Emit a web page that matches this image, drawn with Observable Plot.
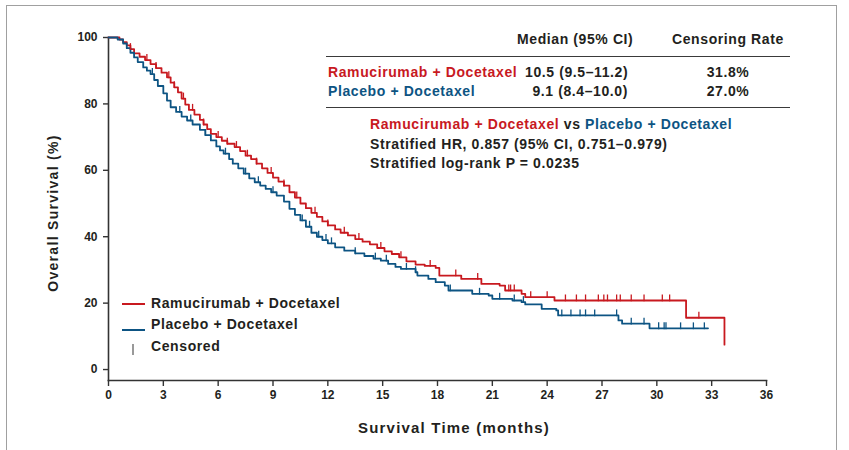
<!DOCTYPE html>
<html>
<head>
<meta charset="utf-8">
<script src="https://cdn.jsdelivr.net/npm/d3@7"></script>
<script src="https://cdn.jsdelivr.net/npm/@observablehq/plot@0.6"></script>
<style>
  html, body { margin: 0; padding: 0; background: #fff; }
  #wrap { position: relative; width: 849px; height: 450px; overflow: hidden; font-family: "Liberation Sans", Arial, sans-serif; color: #231f20; }
  #frame { position: absolute; left: 6px; top: 5px; width: 831px; height: 500px; border: 1px solid #a0a0a0; box-sizing: border-box; }
  #chart { position: absolute; left: 0; top: 0; }
  .t { position: absolute; font-weight: bold; font-size: 14px; letter-spacing: 0.6px; white-space: nowrap; transform: translateY(-50%); line-height: 1; }
  .rule { position: absolute; height: 0; border-top: 1.6px solid #3a3a3a; }
  .red { color: #c8191f; }
  .blue { color: #0d5483; }
</style>
</head>
<body>
<div id="wrap">
  <div id="frame"></div>
  <div id="chart"></div>
  <div id="overlay"></div>
</div>
<script>
// ---- Data ----
const arms = ["Ramucirumab + Docetaxel", "Placebo + Docetaxel"];
const armColors = ["#c8191f", "#0d5483"];
const medians = ["10.5 (9.5–11.2)", "9.1 (8.4–10.0)"];
const censoringRates = ["31.8%", "27.0%"];
const hrText = "Stratified HR, 0.857 (95% CI, 0.751–0.979)";
const pText = "Stratified log-rank P = 0.0235";
const xTicks = [0, 3, 6, 9, 12, 15, 18, 21, 24, 27, 30, 33, 36];
const yTicks = [0, 20, 40, 60, 80, 100];

// Kaplan–Meier step points [month, survival %] (step-after)
const ramKM = [[0,100],[0.6,99.4],[0.8,98.6],[1.0,97.6],[1.2,96.5],[1.4,95.2],[1.7,94.2],[2.0,93.2],[2.3,92.0],[2.6,90.8],[2.9,89.4],[3.2,88.0],[3.4,86.4],[3.6,85.0],[3.8,83.5],[4.0,81.6],[4.2,79.8],[4.4,78.2],[4.7,76.8],[5.0,75.2],[5.2,73.8],[5.4,72.4],[5.6,71.0],[5.9,70.0],[6.2,68.9],[6.5,68.0],[6.9,67.0],[7.2,65.8],[7.5,64.4],[7.8,63.4],[8.1,62.0],[8.4,60.6],[8.7,59.2],[9.0,57.8],[9.3,56.6],[9.6,55.4],[9.9,53.4],[10.2,51.8],[10.5,50.0],[10.8,48.6],[11.1,47.2],[11.4,46.0],[11.7,44.6],[12.0,43.4],[12.4,42.2],[12.7,41.2],[13.1,40.4],[13.5,39.3],[13.9,38.5],[14.3,37.7],[14.7,36.6],[15.1,35.6],[15.5,34.8],[15.9,33.8],[16.3,32.6],[16.8,31.6],[17.3,31.2],[17.9,30.6],[18.1,28.3],[19.3,27.3],[20.4,25.8],[21.4,25.3],[21.7,23.8],[22.6,22.8],[22.8,21.8],[24.4,20.8],[31.6,15.6],[33.7,7.5]];
const plaKM = [[0,100],[0.5,99.4],[0.8,98.2],[1.0,96.8],[1.2,95.4],[1.4,94.0],[1.6,92.6],[1.9,91.0],[2.1,90.0],[2.3,89.0],[2.5,87.2],[2.7,85.4],[3.0,83.2],[3.2,81.0],[3.4,79.0],[3.7,77.6],[4.0,76.2],[4.3,75.0],[4.6,73.8],[5.0,72.2],[5.3,70.6],[5.6,69.0],[5.9,67.2],[6.1,66.0],[6.3,65.0],[6.6,63.4],[6.8,62.0],[7.1,60.6],[7.4,59.0],[7.7,57.6],[8.0,56.4],[8.3,55.4],[8.6,54.4],[8.9,53.4],[9.2,52.4],[9.6,50.6],[9.9,48.4],[10.2,46.6],[10.5,44.9],[10.8,43.0],[11.1,41.2],[11.4,40.0],[11.7,39.0],[12.0,38.0],[12.4,36.8],[12.9,35.8],[13.5,35.0],[14.0,34.2],[14.5,33.4],[14.9,32.8],[15.3,31.8],[15.7,30.9],[16.0,30.3],[16.8,29.3],[16.9,28.3],[17.5,27.3],[17.9,26.3],[18.4,25.3],[18.6,23.8],[19.9,22.8],[20.8,22.3],[21.0,21.3],[22.1,20.8],[22.6,20.3],[22.8,19.6],[23.7,18.3],[24.5,17.8],[24.6,16.3],[27.9,14.8],[28.1,13.8],[29.6,12.4],[32.8,12.4]];

// Censoring times (months)
const ramCensor = [1.2,2.1,2.6,3.3,3.6,4.1,4.6,5.2,6.0,6.5,7.0,7.6,8.1,8.9,9.6,10.3,11.3,12.0,12.9,13.7,14.9,16.0,17.6,19.0,20.2,21.9,22.0,22.2,23.1,24.0,25.0,25.6,26.1,26.8,27.1,27.3,27.8,28.0,28.6,29.3,30.3,30.7,32.3];
const plaCensor = [2.4,3.9,4.5,5.3,6.4,7.5,8.2,9.0,10.6,11.0,11.5,11.9,12.2,13.5,14.6,15.2,16.3,16.8,18.7,20.3,21.4,22.2,22.7,24.8,25.3,25.8,26.1,26.6,27.8,28.6,29.3,30.1,30.4,30.5,31.3,32.0,32.6];

// ---- Build tables ----
const curves = [
  ...ramKM.map(([t, s]) => ({arm: arms[0], t, s})),
  ...plaKM.map(([t, s]) => ({arm: arms[1], t, s}))
];
function survAt(km, t) {
  let s = km[0][1];
  for (const [tt, ss] of km) { if (tt <= t) s = ss; else break; }
  return s;
}
const censors = [
  ...ramCensor.map(t => ({arm: arms[0], t, s: survAt(ramKM, t)})),
  ...plaCensor.map(t => ({arm: arms[1], t, s: survAt(plaKM, t)}))
];
const vtick = { draw(ctx, size) { const h = Math.sqrt(size / Math.PI) * 2; ctx.moveTo(0, -h); ctx.lineTo(0, 0.8); } };

const ink = "#333";
const chart = Plot.plot({
  width: 849,
  height: 450,
  marginLeft: 108,
  marginRight: 83,
  marginTop: 37,
  marginBottom: 70,
  style: { fontFamily: '"Liberation Sans", Arial, sans-serif', fontSize: "12px", fontWeight: "bold", color: "#231f20", background: "transparent" },
  x: { domain: [0, 36] },
  y: { domain: [-3.3, 100] },
  color: { domain: arms, range: armColors },
  marks: [
    Plot.frame({anchor: "left", stroke: ink, strokeWidth: 1.6}),
    Plot.frame({anchor: "bottom", stroke: ink, strokeWidth: 1.6}),
    Plot.axisY({ticks: yTicks, tickSize: 5, tickPadding: 6, stroke: ink, strokeWidth: 1.4, label: null, fontSize: 12, fontWeight: "bold"}),
    Plot.axisX({ticks: xTicks, tickSize: 6, tickPadding: 4, stroke: ink, strokeWidth: 1.4, label: null, fontSize: 12, fontWeight: "bold"}),
    Plot.line(curves, {x: "t", y: "s", z: "arm", stroke: "arm", curve: "step-after", strokeWidth: 1.8}),
    Plot.dot(censors, {x: "t", y: "s", stroke: "arm", symbol: vtick, r: 3, fill: "none", strokeWidth: 1.3})
  ]
});
document.getElementById("chart").appendChild(chart);

// ---- Overlay text ----
const ov = document.getElementById("overlay");
function txt(html, left, cy, extra = "") {
  const d = document.createElement("div");
  d.className = "t";
  d.style.left = left + "px";
  d.style.top = cy + "px";
  d.style.cssText += extra;
  d.innerHTML = html;
  ov.appendChild(d);
  return d;
}
function rule(left, top, width) {
  const d = document.createElement("div");
  d.className = "rule";
  d.style.left = left + "px"; d.style.top = top + "px"; d.style.width = width + "px";
  ov.appendChild(d);
}
// table
txt("Median (95% CI)", 517, 39);
txt("Censoring Rate", 672, 39);
rule(326, 56, 464);
txt(arms[0], 328, 72, "color:" + armColors[0] + ";");
txt(medians[0], 525, 72);
txt(censoringRates[0], 728, 72, "transform:translate(-50%,-50%);");
txt(arms[1], 328, 91, "color:" + armColors[1] + ";");
txt(medians[1], 628, 91, "transform:translate(-100%,-50%);");
txt(censoringRates[1], 728, 91, "transform:translate(-50%,-50%);");
rule(326, 107, 464);
txt('<span class="red">' + arms[0] + '</span> vs <span class="blue">' + arms[1] + '</span>', 370, 124);
txt(hrText, 370, 144);
txt(pText, 370, 163);

// legend
const lg = (x, y, w, h, c) => { const d = document.createElement("div"); d.style.cssText = `position:absolute;left:${x}px;top:${y}px;width:${w}px;height:${h}px;background:${c};`; ov.appendChild(d); };
lg(122, 303, 23, 2, armColors[0]);
lg(122, 329, 23, 2, armColors[1]);
lg(132, 344, 1.5, 11, "#999");
txt(arms[0], 151, 303);
txt(arms[1], 151, 324);
txt("Censored", 151, 346);

// axis titles
txt("Survival Time (months)", 454, 427, "font-size:15px;letter-spacing:1.2px;transform:translate(-50%,-50%);");
txt("Overall Survival (%)", 53, 213, "font-size:14px;letter-spacing:1.3px;transform:translate(-50%,-50%) rotate(-90deg);");
</script>
</body>
</html>
